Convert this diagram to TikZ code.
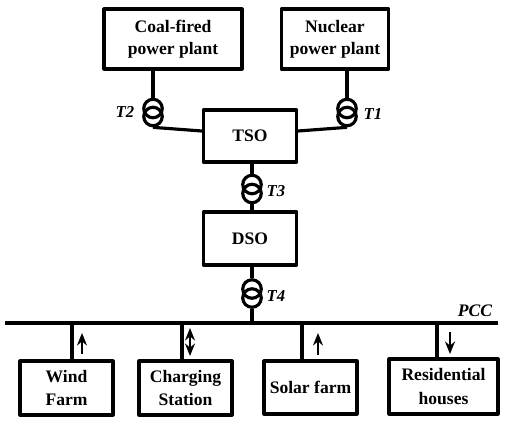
\documentclass[tikz,border=0pt]{standalone}
\usepackage{fontspec}
\setmainfont{Liberation Serif}
\usetikzlibrary{arrows.meta,calc}
\tikzset{
  unitbox/.style={draw,line width=1.8pt,line join=round,minimum width=#1,inner sep=0pt,align=center,font=\bfseries\fontsize{10}{12.4}\selectfont},
  xfmr/.style={draw,circle,line width=1.8pt,minimum size=3.7mm,inner sep=0pt},
  tlabel/.style={font=\bfseries\itshape\fontsize{9.5}{11}\selectfont,inner sep=0pt},
  wire/.style={line width=1.8pt},
  busbar/.style={line width=2.1pt},
  flow/.style={line width=1.1pt,-{Stealth[length=2.5mm,width=2mm]}},
  flowboth/.style={line width=1.1pt,{Stealth[length=2.5mm,width=2mm]}-{Stealth[length=2.5mm,width=2mm]}}
}
\begin{document}
\begin{tikzpicture}[x=0.02cm,y=-0.02cm]
\useasboundingbox (0,0) rectangle (514,424);
% generation
\node[unitbox=2.76cm,minimum height=1.2cm] (coal) at (173,39) {Coal-fired\\power plant};
\node[unitbox=2.14cm,minimum height=1.2cm] (nuclear) at (335,39) {Nuclear\\power plant};
\node[unitbox=1.86cm,minimum height=1.04cm] (tso) at (250,136) {TSO};
\node[unitbox=1.86cm,minimum height=1.06cm] (dso) at (250,238.5) {DSO};
% transformers
\node[xfmr] (t2a) at (153,108.5) {};
\node[xfmr] (t2b) at (153,116.5) {};
\node[xfmr] (t1a) at (347,108.5) {};
\node[xfmr] (t1b) at (347,116.5) {};
\node[xfmr] (t3a) at (252,184.5) {};
\node[xfmr] (t3b) at (252,193.5) {};
\node[xfmr] (t4a) at (252,289) {};
\node[xfmr] (t4b) at (252,298) {};
\node[tlabel] (t2) at (125,112) {T2};
\node[tlabel] (t1) at (373,114) {T1};
\node[tlabel] (t3) at (276,191) {T3};
\node[tlabel] (t4) at (276,296) {T4};
% loads
\node[unitbox=1.86cm,minimum height=1.08cm] (wind) at (66.5,388) {Wind\\[1pt]Farm};
\node[unitbox=1.86cm,minimum height=1.08cm] (charging) at (185.5,388) {Charging\\[1pt]Station};
\node[unitbox=1.86cm,minimum height=1.06cm] (solar) at (310.5,387.5) {Solar farm};
\node[unitbox=2.18cm,minimum height=1.1cm] (houses) at (443.5,386.5) {Residential\\[1pt]houses};
% bus
\coordinate (busl) at (5,323);
\coordinate (busr) at (498,323);
\node[tlabel,font=\bfseries\itshape\fontsize{10}{12}\selectfont] (pcc) at (475,311) {PCC};
\draw[busbar] (busl) -- (busr);
\draw[wire] (t2a |- coal.south) -- (t2a.north);
\draw[wire] (t1a |- nuclear.south) -- (t1a.north);
\draw[wire] (t2b.south) -- ($(tso.west)+(0,-5)$);
\draw[wire] (t1b.south) -- ($(tso.east)+(0,-5)$);
\draw[wire] (t3a |- tso.south) -- (t3a.north);
\draw[wire] (t3b.south) -- (t3b |- dso.north);
\draw[wire] (t4a |- dso.south) -- (t4a.north);
\draw[wire] (t4b.south) -- (t4b |- busl);
\coordinate (windtap) at (72,323);
\coordinate (chargetap) at (182,323);
\coordinate (solartap) at (302,323);
\coordinate (housetap) at (437,323);
\draw[wire] (windtap) -- (windtap |- wind.north);
\draw[wire] (chargetap) -- (chargetap |- charging.north);
\draw[wire] (solartap) -- (solartap |- solar.north);
\draw[wire] (housetap) -- (housetap |- houses.north);
% power flow
\coordinate (f1a) at (82,354);
\coordinate (f1b) at (82,333);
\coordinate (f2a) at (190,328);
\coordinate (f2b) at (190,356);
\coordinate (f3a) at (318,355);
\coordinate (f3b) at (318,333);
\coordinate (f4a) at (450,332);
\coordinate (f4b) at (450,354);
\draw[flow] (f1a) -- (f1b);
\draw[flowboth] (f2a) -- (f2b);
\draw[flow] (f3a) -- (f3b);
\draw[flow] (f4a) -- (f4b);
\end{tikzpicture}
\end{document}
